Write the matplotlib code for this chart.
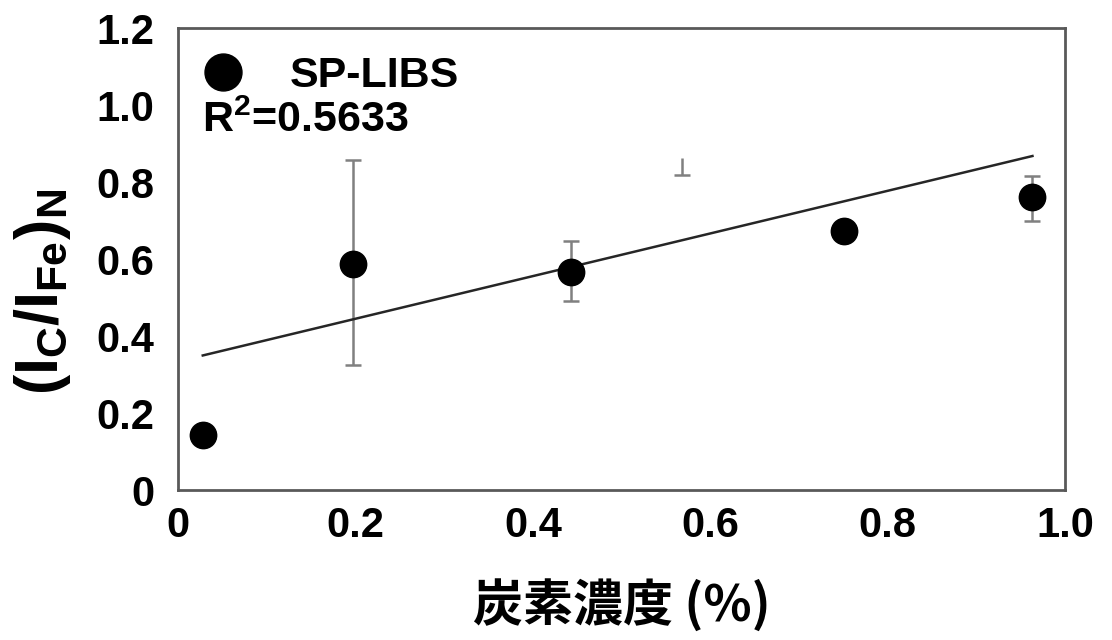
import matplotlib
matplotlib.use("Agg")
import matplotlib.pyplot as plt

plt.rcParams['mathtext.fontset'] = 'custom'
plt.rcParams['mathtext.rm'] = 'Liberation Sans:bold'
plt.rcParams['mathtext.it'] = 'Liberation Sans:bold'
plt.rcParams['mathtext.bf'] = 'Liberation Sans:bold'
plt.rcParams['font.family'] = ['Liberation Sans', 'DejaVu Sans']

# data
carbon = [0.028, 0.197, 0.443, 0.751, 0.963]
ratio = [0.143, 0.588, 0.568, 0.674, 0.762]
err_low = [0.0, 0.264, 0.076, 0.0, 0.062]
err_high = [0.0, 0.270, 0.080, 0.0, 0.054]
# stray error bar fragment (no marker shown)
stray_x = [0.568]
stray_bottom = [0.819]
stray_top = [0.863]
trend_x = [0.028, 0.963]
trend_y = [0.350, 0.868]
series_name = 'SP-LIBS'
r2_text = "R$^{2}$=0.5633"
xticks = [0, 0.2, 0.4, 0.6, 0.8, 1.0]
xticklabels = ["0", "0.2", "0.4", "0.6", "0.8", "1.0"]
yticks = [0, 0.2, 0.4, 0.6, 0.8, 1.0, 1.2]
yticklabels = ["0", "0.2", "0.4", "0.6", "0.8", "1.0", "1.2"]

fig = plt.figure(figsize=(11.12, 6.4), dpi=100)
ax = fig.add_axes([0.160, 0.234, 0.798, 0.722])

ecol = '#808080'
ax.errorbar(carbon, ratio, yerr=[err_low, err_high], fmt='none', ecolor=ecol,
            elinewidth=1.8, capsize=6, capthick=1.8, zorder=2)
ax.vlines(stray_x, stray_bottom, stray_top, color=ecol, lw=1.8, zorder=2)
ax.plot(stray_x, stray_bottom, marker='_', color=ecol, markersize=12,
        markeredgewidth=1.8, linestyle='none', zorder=2)
ax.plot(trend_x, trend_y, color='#262626', lw=1.8, zorder=3)
ax.plot(carbon, ratio, 'o', color='black', markersize=19, zorder=4, label=series_name)

ax.set_xlim(0, 1.0)
ax.set_ylim(0, 1.2)
ax.set_xticks(xticks)
ax.set_xticklabels(xticklabels)
ax.set_yticks(yticks)
ax.set_yticklabels(yticklabels)
ax.tick_params(axis='both', length=0, labelsize=30)
ax.tick_params(axis='x', pad=11)
ax.tick_params(axis='y', pad=17)
for lbl in ax.get_xticklabels() + ax.get_yticklabels():
    lbl.set_fontweight('bold')
for s in ax.spines.values():
    s.set_color('#595959')
    s.set_linewidth(2)

ax.legend(loc='center left', bbox_to_anchor=(0.019, 0.897), frameon=False,
          borderpad=0, borderaxespad=0, handlelength=1.3, handletextpad=0.9,
          markerscale=1.4, prop={'weight': 'bold', 'size': 31})
ax.text(0.027, 0.80, r2_text, transform=ax.transAxes, fontsize=31, fontweight='bold',
        va='center', ha='left')

ax.set_ylabel(r'$(I_{C}/I_{Fe})_{N}$', fontsize=44)
ax.yaxis.set_label_coords(-0.118, 0.43)
ax.set_xlabel('炭素濃度 (%)', fontsize=36, fontweight='bold',
              family=['Noto Sans CJK JP', 'DejaVu Sans'], labelpad=24)

fig.savefig('out.png', dpi=100)
